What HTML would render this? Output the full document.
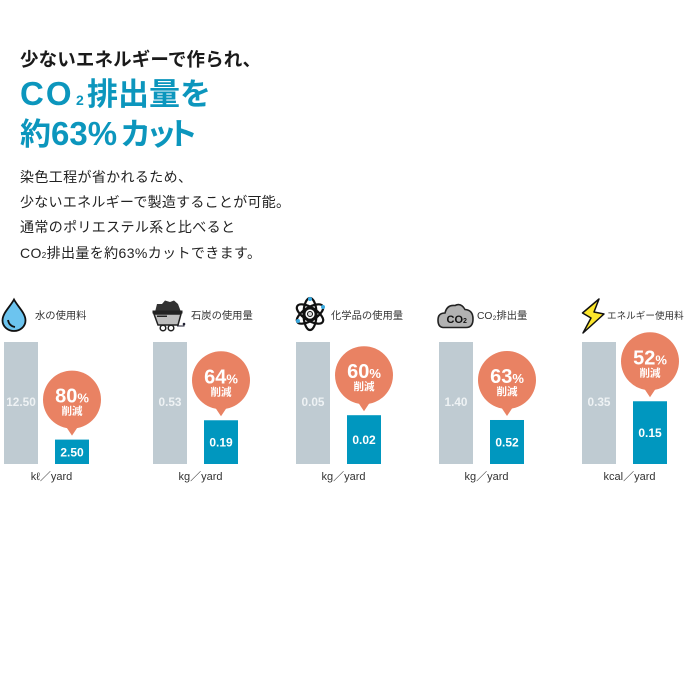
<!DOCTYPE html>
<html lang="ja">
<head>
<meta charset="utf-8">
<title>CO2排出量を約63%カット</title>
<style>
html,body{margin:0;padding:0;background:#fff;width:700px;height:700px;overflow:hidden}
svg{display:block;filter:blur(0.3px)}
text{font-family:"Liberation Sans","Noto Sans CJK JP",sans-serif}
</style>
</head>
<body>
<svg id="root" width="700" height="700" viewBox="0 0 700 700" xmlns="http://www.w3.org/2000/svg">
  <rect width="700" height="700" fill="#fff"/>
  <text x="20" y="66" font-size="18.500" font-weight="700" fill="#1a1a1a" textLength="241" lengthAdjust="spacing">少ないエネルギーで作られ、</text>
  <text y="105" font-size="31" font-weight="700" fill="#0c96bd"><tspan x="20" font-size="33" letter-spacing="2">CO</tspan><tspan x="76" font-size="14">2</tspan><tspan x="87">排出量を</tspan></text>
  <text y="145" font-size="31" font-weight="700" fill="#0c96bd"><tspan x="20">約</tspan><tspan x="51" font-size="33">63%</tspan><tspan x="120">カ</tspan><tspan x="146">ッ</tspan><tspan x="167">ト</tspan></text>
  <g font-size="14" fill="#222">
    <text x="20" y="182" textLength="172" lengthAdjust="spacing">染色工程が省かれるため、</text>
    <text x="20" y="207" textLength="270" lengthAdjust="spacing">少ないエネルギーで製造することが可能。</text>
    <text x="20" y="232" textLength="215" lengthAdjust="spacing">通常のポリエステル系と比べると</text>
    <text x="20" y="258" textLength="241" lengthAdjust="spacing">CO<tspan font-size="8">2</tspan>排出量を約63%カットできます。</text>
  </g>

  <g>
    <path d="M14 299.500 C18 307 25.500 313 25.500 320.500 A11.500 10.500 0 0 1 2.500 320.500 C2.500 313 10 307 14 299.500 Z" fill="#6cc4ef" stroke="#111" stroke-width="1.800"/>
    <path d="M8 320 Q9 326 15 327" fill="none" stroke="#111" stroke-width="1.800"/>
  </g>
  <g>
    <path d="M155 312 L157 304 L162 304 L165 300.500 L170 302 L174 300.500 L178 304 L181 312 Z" fill="#333"/>
    <path d="M154 314 H181 L178 325 H158 Z" fill="#bdbdbd" stroke="#222" stroke-width="1.500"/>
    <rect x="152.500" y="310.500" width="30" height="3" fill="#222"/>
    <rect x="157" y="315.500" width="10" height="1.500" fill="#222"/>
    <circle cx="163" cy="328" r="2.800" fill="#fff" stroke="#222" stroke-width="1.500"/>
    <circle cx="171" cy="328" r="2.800" fill="#fff" stroke="#222" stroke-width="1.500"/>
    <path d="M177 326 H184 V324" fill="none" stroke="#223" stroke-width="1"/>
    <circle cx="184" cy="324" r="1.300" fill="#223"/>
  </g>
  <g fill="none" stroke="#111" stroke-width="2.200">
    <ellipse cx="310" cy="314" rx="15" ry="6.500" transform="rotate(32 310 314)"/>
    <ellipse cx="310" cy="314" rx="15" ry="6.500" transform="rotate(-32 310 314)"/>
    <ellipse cx="310" cy="314" rx="6.500" ry="16"/>
    <circle cx="310" cy="314" r="5.500" fill="#fff" stroke-width="1.800"/>
    <circle cx="310" cy="314" r="2.500" fill="#ddd" stroke-width="1"/>
    <circle cx="310" cy="299" r="2" fill="#39a9e0" stroke="none"/>
    <circle cx="323" cy="307" r="2" fill="#39a9e0" stroke="none"/>
    <circle cx="298" cy="321" r="2" fill="#39a9e0" stroke="none"/>
  </g>
  <g>
    <path d="M443 327.500 Q438 327 438 320 Q438 313 445 313 Q447 304.500 455 305.500 Q461 302.500 465 309.500 Q473 310 473 319 Q473 327.500 466 327.500 Z" fill="#b2b2b2" stroke="#222" stroke-width="1.600"/>
    <text x="446.500" y="323" font-size="11" font-weight="700" fill="#111">CO<tspan font-size="7">2</tspan></text>
  </g>
  <polygon points="599,299 582.500,313 591,318 583,333 604,314 594,312" fill="#fde72c" stroke="#111" stroke-width="1.500" stroke-linejoin="round"/>

  <g id="charts"></g>
</svg>
<script>
const categories = ['水の使用料', '石炭の使用量', '化学品の使用量', 'CO₂排出量', 'エネルギー使用料'];
const units = ['kℓ／yard', 'kg／yard', 'kg／yard', 'kg／yard', 'kcal／yard'];
const standardValues = [12.5, 0.53, 0.05, 1.4, 0.35];
const reducedValues = [2.5, 0.19, 0.02, 0.505, 0.18];
const standardLabels = ['12.50', '0.53', '0.05', '1.40', '0.35'];
const reducedLabels = ['2.50', '0.19', '0.02', '0.52', '0.15'];
const reductionPercents = ['80', '64', '60', '63', '52'];

const NS = 'http://www.w3.org/2000/svg';
const charts = document.getElementById('charts');
const BASE_Y = 464;
const FULL_H = 122;
const BAR_W = 34;
const BAR_GAP = 51;

function groupLeft(i) { return i === 0 ? 4 : 153 + (i - 1) * 143; }
function barHeight(value, max) { return value / max * FULL_H; }
function titleOffset(i) { return i === 0 ? 31 : i === 2 ? 35 : i === 4 ? 25 : 38; }
function titleSize(i) { return i === 4 ? 9.6 : 10.3; }
function make(tag, attrs, parent, content) {
  const el = document.createElementNS(NS, tag);
  for (const k in attrs) el.setAttribute(k, attrs[k]);
  if (content !== undefined) el.textContent = content;
  parent.appendChild(el);
  return el;
}

categories.forEach(function (name, i) {
  const x0 = groupLeft(i);
  const x1 = x0 + BAR_GAP;
  const g = make('g', {}, charts);
  
  

  const title = make('text', { x: x0 + titleOffset(i), y: 319, 'font-size': titleSize(i), fill: '#333' }, g, name);
  
  

  const hA = barHeight(standardValues[i], standardValues[i]);
  const hB = barHeight(reducedValues[i], standardValues[i]);
  const topB = BASE_Y - hB;

  const barA = make('rect', { x: x0, y: BASE_Y - hA, width: BAR_W, height: hA, fill: '#bfcbd2' }, g);
  
  

  const barB = make('rect', { x: x1, y: topB, width: BAR_W, height: hB, fill: '#0097bf' }, g);
  
  

  const labelA = make('text', { x: x0 + BAR_W / 2, y: BASE_Y - hA / 2 + 3, 'text-anchor': 'middle', 'font-size': 11.8, 'font-weight': 700, fill: '#eef2f4' }, g, standardLabels[i]);
  
  

  const labelB = make('text', { x: x1 + BAR_W / 2, y: BASE_Y - hB / 2 + 4.5, 'text-anchor': 'middle', 'font-size': 12, 'font-weight': 700, fill: '#fff' }, g, reducedLabels[i]);
  
  

  const cx = x1 + BAR_W / 2;
  const cy = topB - 40;
  const bubble = make('g', {}, g);
  
  
  make('circle', { cx: cx, cy: cy, r: 29, fill: '#e98263' }, bubble);
  make('polygon', { points: (cx - 6) + ',' + (cy + 27) + ' ' + cx + ',' + (topB - 4) + ' ' + (cx + 6) + ',' + (cy + 27), fill: '#e98263' }, bubble);

  const pct = make('text', { x: cx, y: cy + 3, 'text-anchor': 'middle', 'font-size': 20, 'font-weight': 700, fill: '#fff' }, bubble, reductionPercents[i]);
  
  
  const sign = make('tspan', { 'font-size': 13 }, pct, '%');
  
  

  const cut = make('text', { x: cx, y: cy + 15, 'text-anchor': 'middle', 'font-size': 10.5, 'font-weight': 700, fill: '#fff' }, bubble, '削減');
  
  

  const unit = make('text', { x: x0 + 47.5, y: 480, 'text-anchor': 'middle', 'font-size': 11, fill: '#333' }, g, units[i]);
  
  
});
</script>
</body>
</html>
